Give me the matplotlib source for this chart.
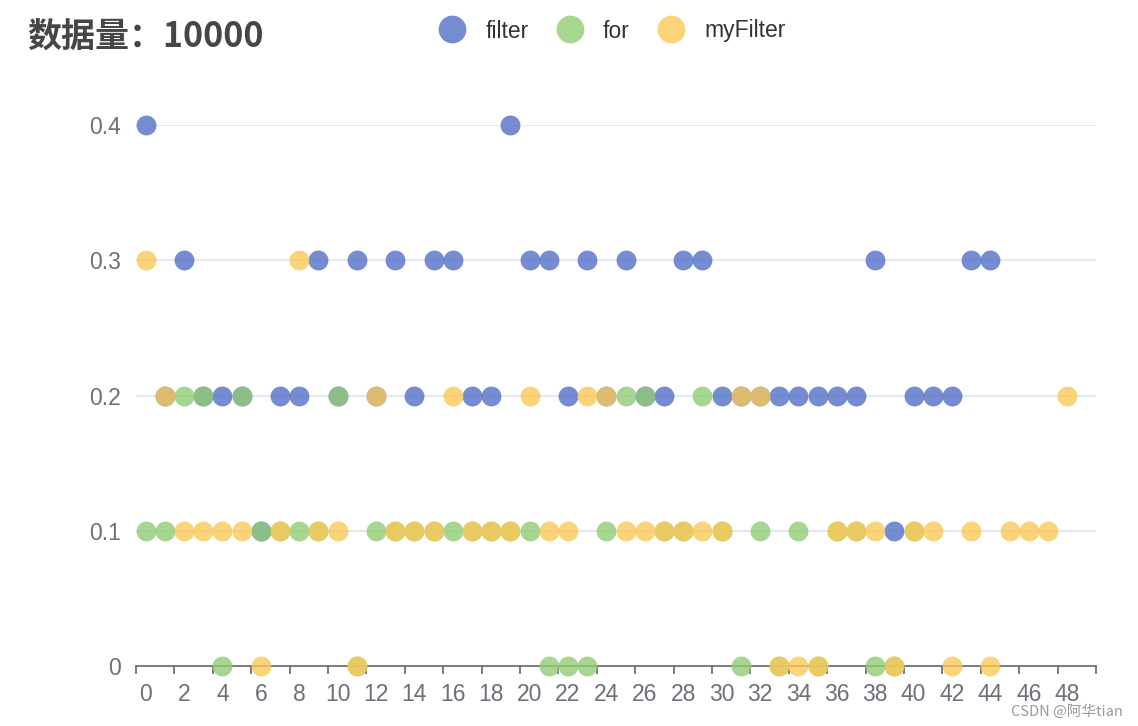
import matplotlib
matplotlib.use("Agg")
import matplotlib.pyplot as plt
from matplotlib.lines import Line2D
import numpy as np

plt.rcParams['font.family'] = ['Liberation Sans', 'Noto Sans CJK SC', 'DejaVu Sans']

title = '数据量：10000'
series_names = ['filter', 'for', 'myFilter']
categories = list(range(50))

filter_vals = [0.4, 0.2, 0.3, 0.2, 0.2, 0.2, 0.1, 0.2, 0.2, 0.3,
               0.2, 0.3, 0.2, 0.3, 0.2, 0.3, 0.3, 0.2, 0.2, 0.4,
               0.3, 0.3, 0.2, 0.3, 0.2, 0.3, 0.2, 0.2, 0.3, 0.3,
               0.2, 0.2, 0.2, 0.2, 0.2, 0.2, 0.2, 0.2, 0.3, 0.1,
               0.2, 0.2, 0.2, 0.3, 0.3]
for_vals = [0.1, 0.1, 0.2, 0.2, 0, 0.2, 0.1, 0.1, 0.1, 0.1,
            0.2, 0, 0.1, 0.1, 0.1, 0.1, 0.1, 0.1, 0.1, 0.1,
            0.1, 0, 0, 0, 0.1, 0.2, 0.2, 0.1, 0.1, 0.2,
            0.1, 0, 0.1, 0, 0.1, 0, 0.1, 0.1, 0, 0,
            0.1]
myfilter_vals = [0.3, 0.2, 0.1, 0.1, 0.1, 0.1, 0, 0.1, 0.3, 0.1,
                 0.1, 0, 0.2, 0.1, 0.1, 0.1, 0.2, 0.1, 0.1, 0.1,
                 0.2, 0.1, 0.1, 0.2, 0.2, 0.1, 0.1, 0.1, 0.1, 0.1,
                 0.1, 0.2, 0.2, 0, 0, 0, 0.1, 0.1, 0.1, 0,
                 0.1, 0.1, 0, 0.1, 0, 0.1, 0.1, 0.1, 0.2]
yticks = [0, 0.1, 0.2, 0.3, 0.4]
ytick_labels = ['0', '0.1', '0.2', '0.3', '0.4']

colors = ['#5470c6', '#91cc75', '#fac858']
axis_col = '#6e7079'

W, H = 1138, 726
fig = plt.figure(figsize=(W / 100, H / 100), dpi=100)
ax = fig.add_axes([136 / W, 1 - 666 / H, (1096 - 136) / W, (666 - 125) / H])

all_vals = [filter_vals, for_vals, myfilter_vals]
for vals, c in zip(all_vals, colors):
    x = np.array(categories[:len(vals)])
    ax.scatter(x, vals, s=205, color=c, alpha=0.8, linewidths=0,
               zorder=3, clip_on=False)

ax.set_xlim(-0.5, 49.5)
ax.set_ylim(0, 0.4)

# grid lines
for yv in yticks[1:]:
    ax.axhline(yv, color='#e0e6f1', lw=1.3, zorder=1)

for s in ['top', 'right', 'left']:
    ax.spines[s].set_visible(False)
ax.spines['bottom'].set_color(axis_col)
ax.spines['bottom'].set_linewidth(1.3)
ax.spines['bottom'].set_zorder(2)

ax.set_yticks(yticks)
ax.set_yticklabels(ytick_labels)
ax.tick_params(axis='y', length=0, pad=11, labelsize=16.5, labelcolor=axis_col)

ax.set_xticks(categories[::2])
ax.set_xticklabels([str(c) for c in categories[::2]])
ax.set_xticks(np.arange(-0.5, 50, 2), minor=True)
ax.tick_params(axis='x', which='major', length=0, pad=12, labelsize=16.5, labelcolor=axis_col)
ax.tick_params(axis='x', which='minor', length=6, width=1.3, color=axis_col)

fig.text(27 / W, 1 - 36 / H, title, fontsize=24.5, fontweight='bold', color='#464646',
         va='center', ha='left', family=['Noto Sans CJK SC', 'DejaVu Sans'])

handles = [Line2D([], [], marker='o', ls='', markersize=20, markeredgewidth=0,
                  color=c, alpha=0.8) for c in colors]
fig.legend(handles, series_names, loc='center', bbox_to_anchor=(612 / W, 1 - 31 / H),
           ncol=3, frameon=False, fontsize=16.5, handletextpad=0.85, columnspacing=1.2,
           handlelength=1.2, labelcolor='#333333')

fig.text(1123 / W, 1 - 712 / H, 'CSDN @阿华tian', fontsize=10.5, color='#9a9a9a',
         ha='right', va='center', family=['Noto Sans CJK SC', 'DejaVu Sans'])

fig.savefig('out.png', dpi=100)
